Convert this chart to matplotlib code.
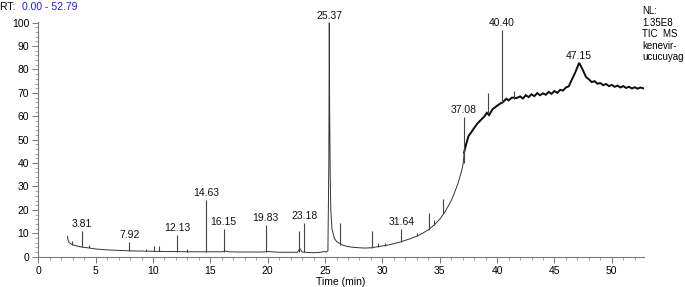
import matplotlib
matplotlib.use("Agg")
import matplotlib.pyplot as plt
from matplotlib.ticker import MultipleLocator

plt.rcParams['font.family'] = ['Liberation Sans', 'DejaVu Sans']

# Baseline / continuous trace (retention time in min, relative abundance %)
trace_rt = [2.55, 2.6, 2.7, 2.9, 3.2, 3.6, 4.0, 4.5, 5.0, 5.5, 6.0, 6.5, 7.0, 8.0, 9.0,
            10.0, 11.0, 12.0, 13.0, 14.0, 15.0, 16.0, 16.3, 16.6, 17.5, 18.5, 19.5, 20.0,
            21.0, 22.0, 22.6, 22.8, 23.0, 23.5, 24.0, 24.5, 24.9, 25.1, 25.25, 25.33,
            25.37, 25.40, 25.45, 25.5, 25.6, 25.8, 26.0, 26.5, 27.0, 27.5, 28.0, 28.5,
            29.0, 29.5, 30.0, 30.5, 31.0, 31.5, 32.0, 32.5, 33.0, 33.5, 34.0, 34.5, 35.0,
            35.5, 36.0, 36.3, 36.6, 36.9, 37.05, 37.12, 37.3, 37.5, 37.8, 38.0, 38.3,
            38.6, 38.9, 39.1, 39.3, 39.6, 40.0, 40.3, 40.5, 40.8, 41.0, 41.3, 41.7,
            42.0, 42.25, 42.5, 42.75, 43.0, 43.25, 43.5, 43.75, 44.0, 44.25, 44.5, 44.75,
            45.0, 45.25, 45.5, 45.75, 46.0, 46.25, 46.5, 46.75, 47.0, 47.15, 47.3, 47.5,
            47.75, 48.0, 48.25, 48.5, 48.75, 49.0, 49.25, 49.5, 49.75, 50.0, 50.25, 50.5,
            50.75, 51.0, 51.25, 51.5, 51.75, 52.0, 52.25, 52.5, 52.79]
trace_int = [8.8, 7.0, 6.0, 5.3, 4.8, 4.3, 4.0, 3.7, 3.3, 3.1, 2.9, 2.8, 2.7, 2.5, 2.4,
             2.3, 2.2, 2.2, 2.1, 2.1, 2.1, 2.1, 2.4, 2.1, 2.0, 2.0, 2.0, 2.2,
             1.9, 1.9, 1.9, 3.5, 2.0, 1.8, 1.7, 1.8, 2.2, 2.0, 2.5, 40.0,
             100.0, 62.0, 35.0, 20.0, 12.0, 8.0, 6.5, 5.0, 4.3, 4.0, 3.8, 3.7,
             3.8, 4.2, 4.6, 5.0, 5.6, 6.2, 7.0, 7.8, 8.8, 10.0, 11.5, 13.5, 16.0,
             19.5, 24.0, 27.5, 31.5, 36.5, 40.0, 44.5, 48.0, 51.5, 53.5, 55.0, 57.0,
             58.5, 60.0, 61.5, 60.5, 63.0, 64.5, 65.5, 66.0, 67.5, 66.8, 68.0, 67.8,
             68.5, 67.6, 69.0, 68.2, 69.4, 68.6, 69.9, 69.0, 69.8, 69.2, 70.4, 69.6,
             70.8, 70.0, 71.3, 71.0, 72.3, 72.8, 75.5, 78.0, 81.0, 82.8, 81.5, 79.5,
             76.8, 75.8, 74.6, 75.0, 73.9, 74.2, 73.3, 73.8, 72.9, 73.4, 72.6, 73.1,
             72.3, 72.9, 72.1, 72.6, 71.9, 72.4, 71.8, 72.3, 71.9]

# Narrow spikes: retention time, baseline under spike, apex
spike_rt = [2.98, 3.81, 4.4, 7.92, 9.4, 10.1, 10.55, 12.13, 12.95, 14.63, 16.15, 19.83,
            22.7, 23.18, 26.3, 29.05, 29.6, 30.2, 31.64, 33.0, 34.05, 34.5, 35.3,
            37.08, 39.2, 40.40, 41.5]
spike_base = [5.0, 4.2, 3.7, 2.5, 2.4, 2.3, 2.3, 2.2, 2.1, 2.1, 2.1, 2.0,
              1.9, 1.9, 5.0, 3.8, 4.3, 4.7, 6.4, 8.8, 11.6, 13.5, 18.3,
              40.0, 61.5, 65.5, 67.5]
spike_top = [6.5, 11.0, 5.2, 6.4, 3.3, 4.6, 4.4, 9.3, 3.4, 24.2, 11.7, 13.5,
             11.1, 14.3, 14.5, 11.1, 5.8, 5.8, 11.8, 10.0, 18.8, 15.5, 24.5,
             59.6, 69.8, 96.8, 71.0]

# Annotated peaks
label_rt = [3.81, 7.92, 12.13, 14.63, 16.15, 19.83, 23.18, 25.37, 31.64, 37.08, 40.40, 47.15]
label_y = [11.0, 6.4, 9.3, 24.2, 11.7, 13.5, 14.3, 100.0, 11.8, 59.6, 96.8, 82.8]
label_text = ["3.81", "7.92", "12.13", "14.63", "16.15", "19.83", "23.18", "25.37",
              "31.64", "37.08", "40.40", "47.15"]

x_ticks = [0, 5, 10, 15, 20, 25, 30, 35, 40, 45, 50]
y_ticks = [0, 10, 20, 30, 40, 50, 60, 70, 80, 90, 100]

fig = plt.figure(figsize=(6.85, 2.87), dpi=100)
ax = fig.add_axes([38.3 / 685, 30.3 / 287, (643.8 - 38.3) / 685, 235.2 / 287])

ax.plot(trace_rt, trace_int, color='#333333', lw=0.7, solid_joinstyle='miter')
late = [i for i, t in enumerate(trace_rt) if t >= 37.12]
ax.plot([trace_rt[i] for i in late], [trace_int[i] for i in late],
        color='#111111', lw=1.4, solid_joinstyle='miter')
ax.vlines(spike_rt, spike_base, spike_top, color='#444444', lw=0.8)

for x, y, t in zip(label_rt, label_y, label_text):
    ax.text(x, y + 0.8, t, ha='center', va='bottom', fontsize=7.5, color='#111111')

ax.set_xlim(0, 52.79)
ax.set_ylim(0, 100.5)
ax.set_xticks(x_ticks)
ax.set_yticks(y_ticks)
ax.xaxis.set_minor_locator(MultipleLocator(1))
ax.yaxis.set_minor_locator(MultipleLocator(2))
for s in ['top', 'right']:
    ax.spines[s].set_visible(False)
for s in ['left', 'bottom']:
    ax.spines[s].set_color('#777777')
    ax.spines[s].set_linewidth(0.8)
ax.tick_params(which='major', length=4.5, width=0.7, color='#777777', labelsize=7.5, pad=2)
ax.tick_params(which='minor', length=2.5, width=0.6, color='#999999')
ax.set_xlabel('Time (min)', fontsize=7.5, labelpad=1)

fig.text(0.5 / 685, 1 - 7 / 287, 'RT: ', fontsize=7.5, va='center', ha='left', color='black')
fig.text(22 / 685, 1 - 7 / 287, '0.00 - 52.79', fontsize=7.5, va='center', ha='left', color='#1a1aff')
fig.text(642 / 685, 1 - 6 / 287, 'NL:\n1.35E8\nTIC  MS\nkenevir-\nucucuyag', fontsize=7,
         va='top', ha='left', color='black', linespacing=1.2)

fig.savefig('out.png', dpi=100)
